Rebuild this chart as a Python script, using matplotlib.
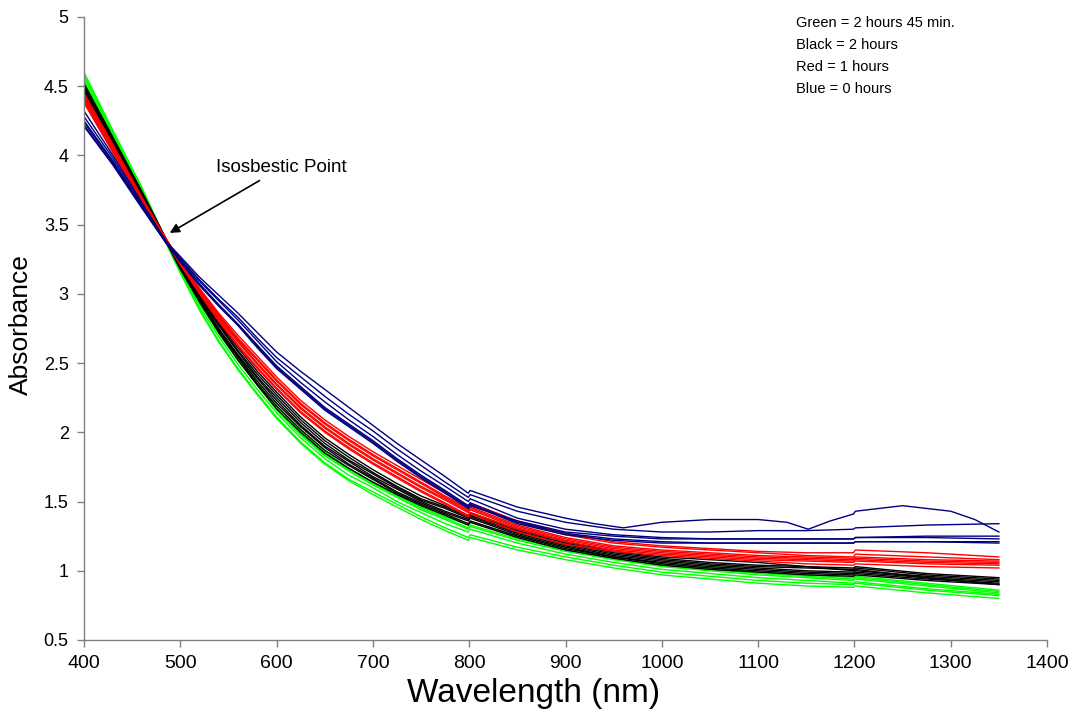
import numpy as np
import matplotlib
matplotlib.use("Agg")
import matplotlib.pyplot as plt

plt.rcParams['font.family'] = ['Liberation Sans', 'DejaVu Sans']

# wavelengths (nm) shared by most spectra; 799/801 and 1199/1201 carry the detector steps
wl = [400, 430, 460, 485, 500, 520, 540, 560, 580, 600, 625, 650, 675, 700, 725,
      750, 775, 799, 801, 850, 900, 950, 1000, 1050, 1100, 1150, 1199, 1201, 1275, 1350]

# 0 hours (blue); this one has the bumps past 900 nm
blue_bump_wl = [400, 430, 460, 485, 500, 520, 540, 560, 580, 600, 625, 650, 675, 700,
                725, 750, 775, 799, 801, 850, 900, 930, 960, 1000, 1050, 1100, 1130,
                1152, 1175, 1199, 1201, 1250, 1300, 1325, 1350]
blue_bump = [4.32, 4.00, 3.66, 3.38, 3.27, 3.12, 2.99, 2.86, 2.72, 2.58, 2.44, 2.31,
             2.18, 2.05, 1.92, 1.80, 1.68, 1.56, 1.58, 1.46, 1.38, 1.34, 1.31, 1.35,
             1.37, 1.37, 1.35, 1.30, 1.36, 1.41, 1.43, 1.47, 1.43, 1.37, 1.28]
blue_0h = [
    [4.28, 3.98, 3.65, 3.38, 3.26, 3.10, 2.96, 2.83, 2.68, 2.54, 2.40, 2.26, 2.13, 2.01, 1.88, 1.76, 1.64, 1.53, 1.55, 1.43, 1.35, 1.30, 1.28, 1.28, 1.29, 1.29, 1.30, 1.31, 1.33, 1.34],
    [4.25, 3.96, 3.64, 3.38, 3.25, 3.09, 2.95, 2.81, 2.66, 2.51, 2.36, 2.22, 2.09, 1.97, 1.84, 1.72, 1.61, 1.50, 1.52, 1.38, 1.30, 1.26, 1.24, 1.23, 1.23, 1.23, 1.23, 1.24, 1.25, 1.25],
    [4.22, 3.94, 3.63, 3.37, 3.24, 3.07, 2.92, 2.78, 2.63, 2.48, 2.33, 2.18, 2.06, 1.94, 1.81, 1.69, 1.58, 1.47, 1.49, 1.35, 1.27, 1.23, 1.21, 1.20, 1.20, 1.20, 1.20, 1.21, 1.21, 1.21],
    [4.21, 3.93, 3.62, 3.37, 3.24, 3.07, 2.92, 2.78, 2.62, 2.47, 2.32, 2.17, 2.05, 1.93, 1.80, 1.68, 1.57, 1.46, 1.48, 1.34, 1.26, 1.22, 1.20, 1.20, 1.20, 1.20, 1.20, 1.21, 1.21, 1.20],
    [4.24, 3.95, 3.63, 3.37, 3.23, 3.06, 2.91, 2.77, 2.61, 2.46, 2.31, 2.16, 2.04, 1.92, 1.79, 1.67, 1.56, 1.45, 1.47, 1.36, 1.28, 1.25, 1.23, 1.23, 1.23, 1.23, 1.23, 1.24, 1.24, 1.23],
]

# 1 hour (red)
red_1h = [
    [4.45, 4.08, 3.70, 3.40, 3.24, 3.04, 2.86, 2.70, 2.55, 2.40, 2.23, 2.09, 1.97, 1.86, 1.76, 1.66, 1.56, 1.47, 1.49, 1.36, 1.27, 1.21, 1.18, 1.16, 1.14, 1.13, 1.13, 1.15, 1.13, 1.10],
    [4.43, 4.07, 3.69, 3.40, 3.23, 3.03, 2.85, 2.68, 2.53, 2.38, 2.21, 2.07, 1.95, 1.84, 1.74, 1.64, 1.54, 1.45, 1.47, 1.35, 1.26, 1.20, 1.17, 1.15, 1.13, 1.11, 1.10, 1.12, 1.10, 1.08],
    [4.42, 4.06, 3.69, 3.39, 3.23, 3.03, 2.84, 2.67, 2.52, 2.37, 2.20, 2.06, 1.94, 1.83, 1.73, 1.63, 1.53, 1.44, 1.46, 1.33, 1.24, 1.18, 1.15, 1.13, 1.11, 1.10, 1.09, 1.10, 1.08, 1.07],
    [4.41, 4.05, 3.68, 3.39, 3.22, 3.02, 2.83, 2.66, 2.50, 2.35, 2.18, 2.04, 1.92, 1.81, 1.71, 1.61, 1.52, 1.43, 1.45, 1.32, 1.23, 1.17, 1.14, 1.12, 1.10, 1.09, 1.08, 1.09, 1.07, 1.06],
    [4.40, 4.04, 3.68, 3.39, 3.22, 3.01, 2.82, 2.65, 2.49, 2.34, 2.17, 2.03, 1.91, 1.80, 1.70, 1.60, 1.51, 1.42, 1.44, 1.31, 1.22, 1.16, 1.13, 1.11, 1.09, 1.08, 1.07, 1.08, 1.06, 1.05],
    [4.39, 4.03, 3.67, 3.38, 3.21, 3.01, 2.81, 2.63, 2.47, 2.32, 2.15, 2.01, 1.89, 1.78, 1.68, 1.58, 1.49, 1.40, 1.42, 1.30, 1.21, 1.15, 1.12, 1.10, 1.08, 1.07, 1.06, 1.07, 1.05, 1.04],
    [4.38, 4.02, 3.66, 3.38, 3.21, 3.00, 2.80, 2.62, 2.46, 2.31, 2.14, 2.00, 1.88, 1.77, 1.67, 1.57, 1.48, 1.39, 1.41, 1.28, 1.19, 1.14, 1.11, 1.09, 1.07, 1.05, 1.04, 1.05, 1.03, 1.02],
]

# 2 hours (black)
black_2h = [
    [4.52, 4.13, 3.74, 3.40, 3.21, 2.99, 2.79, 2.61, 2.44, 2.29, 2.11, 1.96, 1.84, 1.73, 1.63, 1.54, 1.47, 1.40, 1.42, 1.30, 1.21, 1.14, 1.10, 1.08, 1.06, 1.03, 1.00, 1.01, 0.95, 0.90],
    [4.50, 4.12, 3.73, 3.40, 3.20, 2.98, 2.78, 2.59, 2.42, 2.27, 2.09, 1.94, 1.82, 1.71, 1.61, 1.52, 1.46, 1.39, 1.41, 1.29, 1.20, 1.13, 1.09, 1.06, 1.04, 1.03, 1.02, 1.03, 0.98, 0.95],
    [4.49, 4.11, 3.73, 3.39, 3.20, 2.97, 2.77, 2.58, 2.40, 2.25, 2.07, 1.92, 1.80, 1.70, 1.60, 1.51, 1.45, 1.38, 1.40, 1.28, 1.19, 1.12, 1.08, 1.05, 1.03, 1.02, 1.01, 1.02, 0.97, 0.94],
    [4.48, 4.11, 3.72, 3.39, 3.19, 2.96, 2.75, 2.56, 2.39, 2.23, 2.05, 1.90, 1.79, 1.68, 1.59, 1.50, 1.43, 1.37, 1.39, 1.27, 1.18, 1.11, 1.07, 1.04, 1.02, 1.00, 0.99, 1.00, 0.96, 0.93],
    [4.47, 4.10, 3.72, 3.39, 3.19, 2.96, 2.74, 2.55, 2.37, 2.21, 2.04, 1.89, 1.77, 1.67, 1.57, 1.49, 1.42, 1.36, 1.38, 1.26, 1.17, 1.10, 1.06, 1.03, 1.01, 0.99, 0.98, 0.99, 0.95, 0.92],
    [4.46, 4.09, 3.71, 3.38, 3.18, 2.95, 2.73, 2.54, 2.35, 2.19, 2.02, 1.87, 1.76, 1.66, 1.56, 1.48, 1.41, 1.34, 1.36, 1.25, 1.16, 1.10, 1.05, 1.02, 1.00, 0.98, 0.97, 0.98, 0.94, 0.91],
    [4.44, 4.08, 3.71, 3.38, 3.18, 2.94, 2.72, 2.52, 2.34, 2.17, 2.00, 1.85, 1.74, 1.64, 1.55, 1.47, 1.40, 1.33, 1.35, 1.24, 1.15, 1.09, 1.04, 1.01, 0.99, 0.97, 0.96, 0.97, 0.93, 0.90],
]

# 2 hours 45 min (green)
green_245 = [
    [4.60, 4.18, 3.77, 3.39, 3.19, 2.95, 2.73, 2.54, 2.36, 2.19, 2.01, 1.86, 1.74, 1.64, 1.55, 1.46, 1.39, 1.33, 1.35, 1.25, 1.17, 1.10, 1.05, 1.02, 0.99, 0.97, 0.95, 0.96, 0.91, 0.86],
    [4.58, 4.17, 3.76, 3.39, 3.18, 2.94, 2.72, 2.53, 2.35, 2.17, 1.99, 1.84, 1.73, 1.63, 1.54, 1.45, 1.38, 1.31, 1.33, 1.23, 1.15, 1.09, 1.04, 1.01, 0.98, 0.96, 0.94, 0.95, 0.90, 0.85],
    [4.57, 4.16, 3.76, 3.38, 3.18, 2.93, 2.71, 2.52, 2.34, 2.16, 1.98, 1.83, 1.72, 1.62, 1.53, 1.44, 1.37, 1.30, 1.32, 1.22, 1.14, 1.08, 1.03, 1.00, 0.97, 0.95, 0.93, 0.94, 0.89, 0.84],
    [4.55, 4.15, 3.75, 3.38, 3.17, 2.91, 2.69, 2.49, 2.31, 2.14, 1.96, 1.81, 1.69, 1.60, 1.50, 1.42, 1.34, 1.28, 1.30, 1.20, 1.12, 1.06, 1.01, 0.98, 0.95, 0.93, 0.91, 0.92, 0.87, 0.83],
    [4.53, 4.14, 3.75, 3.37, 3.16, 2.89, 2.66, 2.46, 2.28, 2.11, 1.93, 1.78, 1.66, 1.57, 1.48, 1.39, 1.31, 1.24, 1.26, 1.17, 1.10, 1.04, 0.99, 0.96, 0.93, 0.91, 0.90, 0.91, 0.86, 0.82],
    [4.52, 4.13, 3.74, 3.37, 3.15, 2.88, 2.65, 2.45, 2.27, 2.10, 1.92, 1.77, 1.65, 1.55, 1.46, 1.37, 1.29, 1.22, 1.24, 1.15, 1.08, 1.02, 0.97, 0.94, 0.91, 0.89, 0.88, 0.89, 0.84, 0.80],
]

legend_lines = ["Green = 2 hours 45 min.", "Black = 2 hours", "Red = 1 hours", "Blue = 0 hours"]
y_ticks = [0.5, 1, 1.5, 2, 2.5, 3, 3.5, 4, 4.5, 5]
x_ticks = [400, 500, 600, 700, 800, 900, 1000, 1100, 1200, 1300, 1400]

fig = plt.figure(figsize=(10.73, 7.19), dpi=100)
ax = fig.add_axes([0.0783, 0.1099, 0.8975, 0.8665])

lw = 1.0
for curve in green_245:
    ax.plot(wl, curve, color='#00ff00', linewidth=lw)
for curve in black_2h:
    ax.plot(wl, curve, color='black', linewidth=lw)
for curve in red_1h:
    ax.plot(wl, curve, color='#ff0000', linewidth=lw)
for curve in blue_0h:
    ax.plot(wl, curve, color='#000080', linewidth=lw)
ax.plot(blue_bump_wl, blue_bump, color='#000080', linewidth=lw)

ax.set_xlim(400, 1400)
ax.set_ylim(0.5, 5)
ax.set_xticks(x_ticks)
ax.set_xticklabels([str(t) for t in x_ticks])
ax.set_yticks(y_ticks)
ax.set_yticklabels([f"{t:g}" for t in y_ticks])

for side in ['top', 'right']:
    ax.spines[side].set_visible(False)
for side in ['left', 'bottom']:
    ax.spines[side].set_color('#808080')
    ax.spines[side].set_linewidth(1.0)
ax.tick_params(axis='both', direction='out', length=5, width=1, color='#808080', pad=6)
ax.tick_params(axis='x', labelsize=14)
ax.tick_params(axis='y', labelsize=13)

# axis titles placed in figure coordinates
fig.text(0.497, 0.036, "Wavelength (nm)", fontsize=24, ha='center', va='center')
fig.text(0.0196, 0.548, "Absorbance", fontsize=19, ha='center', va='center', rotation=90)

ax.annotate("Isosbestic Point", xy=(489, 3.44), xytext=(537, 3.91),
            fontsize=13.5, va='center', ha='left',
            arrowprops=dict(arrowstyle='-|>', color='black', lw=1.2,
                            mutation_scale=14, shrinkA=2, shrinkB=0))

for i, line in enumerate(legend_lines):
    ax.text(1139, 4.96 - i * 0.16, line, fontsize=10.5, va='center', ha='left')

fig.savefig("out.png", dpi=100)
